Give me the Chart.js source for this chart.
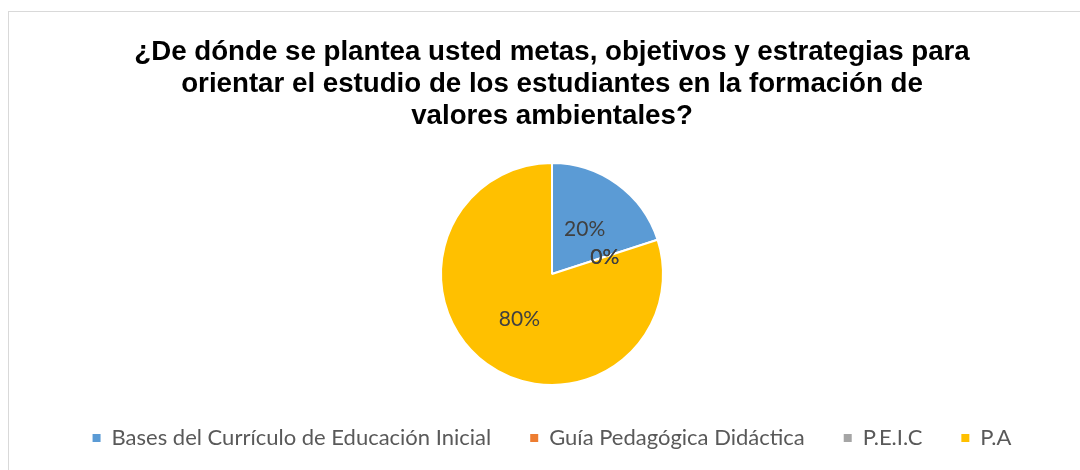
<!DOCTYPE html>
<html>
<head>
<meta charset="utf-8">
<script src="https://cdn.jsdelivr.net/npm/chart.js@4"></script>
<style>
  html, body { margin: 0; padding: 0; background: #fff; overflow: hidden; }
  #wrap { position: absolute; left: 8px; top: 11px; width: 1100px; height: 470px; border: 1px solid #d9d9d9; }
</style>
</head>
<body>
<div id="wrap"><canvas id="pieChart" width="1100" height="458"></canvas></div>
<script>
const titleLines = [
  '¿De dónde se plantea usted metas, objetivos y estrategias para',
  'orientar el estudio de los estudiantes en la formación de',
  'valores ambientales?'
];
const categories = ['Bases del Currículo de Educación Inicial', 'Guía Pedagógica Didáctica', 'P.E.I.C', 'P.A'];
const percents = [20, 0, 0, 80];
const sliceColors = ['#5b9bd5', '#ed7d31', '#a5a5a5', '#ffc000'];

// draws the % label in the middle of every slice (zero slices too, like Excel does)
const sliceLabels = {
  id: 'sliceLabels',
  afterDatasetsDraw(chart) {
    const ctx = chart.ctx;
    const meta = chart.getDatasetMeta(0);
    ctx.save();
    ctx.font = '21px Lato';
    ctx.fillStyle = '#404040';
    ctx.textAlign = 'center';
    ctx.textBaseline = 'middle';
    meta.data.forEach((arc, i) => {
      const p = arc.getCenterPoint();
      ctx.fillText(percents[i] + '%', p.x, p.y);
    });
    ctx.restore();
  }
};

const ctx = document.getElementById('pieChart').getContext('2d');
new Chart(ctx, {
  type: 'pie',
  data: {
    labels: categories,
    datasets: [{
      data: percents,
      backgroundColor: sliceColors,
      borderColor: '#ffffff',
      borderWidth: 2,
      radius: 111
    }]
  },
  options: {
    responsive: false,
    animation: false,
    layout: { padding: { top: 10, left: 10, right: 24, bottom: 11 } },
    plugins: {
      title: {
        display: true,
        text: titleLines,
        color: '#000000',
        font: { family: '"Liberation Sans", Arial, sans-serif', size: 27.7, weight: 'bold', lineHeight: '32px' },
        padding: { top: 14, bottom: 28 }
      },
      legend: {
        position: 'bottom',
        align: 'center',
        labels: {
          boxWidth: 8,
          boxHeight: 8,
          padding: 39,
          color: '#595959',
          font: { family: 'Lato', size: 22 },
          generateLabels(chart) {
            const items = Chart.overrides.pie.plugins.legend.labels.generateLabels(chart);
            return items.map(it => ({ ...it, lineWidth: 0 }));
          }
        }
      },
      tooltip: { enabled: false }
    }
  },
  plugins: [sliceLabels]
});
</script>
</body>
</html>
